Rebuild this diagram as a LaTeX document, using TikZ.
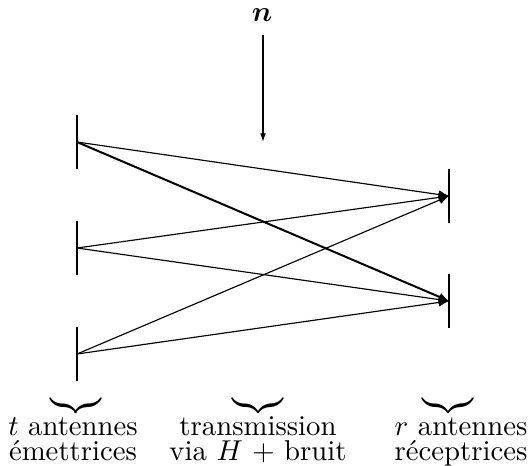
\documentclass[tikz,border=0pt]{standalone}
\usepackage{amsmath,bm}
\usetikzlibrary{arrows.meta}
\newcommand\tightlines{\fontsize{10pt}{8.7pt}\selectfont\lineskiplimit=-20pt\relax\lineskip=0pt\relax}
\begin{document}
\begin{tikzpicture}[x=0.348pt,y=-0.348pt,
  antenna/.style={line width=0.45pt},
  link/.style={line width=0.4pt,-{Latex[length=3.6pt,width=3pt]}},
  boldlink/.style={line width=0.7pt,-{Latex[length=3.6pt,width=3pt]}},
  noisearrow/.style={line width=0.4pt,-{Latex[length=3pt,width=2pt]}},
  lbl/.style={font=\tightlines,align=center,inner sep=0pt,anchor=base},
  brace/.style={inner sep=0pt}]
\useasboundingbox (0,0) rectangle (531,465);
% transmit antennas
\coordinate (t1) at (77,142);
\coordinate (t2) at (77,248);
\coordinate (t3) at (77,354);
% receive antennas
\coordinate (r1) at (449,196);
\coordinate (r2) at (449,301);
\foreach \a in {t1,t2,t3,r1,r2}
  \draw[antenna] ([yshift=27*0.348pt]\a) -- ([yshift=-27*0.348pt]\a);
% links
\draw[link] (t1) -- (r1);
\draw[boldlink] (t1) -- (r2);
\draw[link] (t2) -- (r1);
\draw[link] (t2) -- (r2);
\draw[link] (t3) -- (r1);
\draw[link] (t3) -- (r2);
% noise
\node[inner sep=0pt] (n) at (262,15) {$\bm{n}$};
\coordinate (nstart) at (263,35);
\coordinate (nend) at (263,142);
\draw[noisearrow] (nstart) -- (nend);
% braces
\node[brace] (b1) at (76,406) {$\underbrace{\hbox to 18pt{}}$};
\node[brace] (b2) at (258,406) {$\underbrace{\hbox to 18pt{}}$};
\node[brace] (b3) at (448,406) {$\underbrace{\hbox to 18pt{}}$};
% labels
\node[lbl] (l1) at (73,460) {$t$ antennes\\ émettrices};
\node[lbl] (l2) at (258,460) {transmission\\ via $H$ + bruit};
\node[lbl] (l3) at (461,460) {$r$ antennes\\ réceptrices};
\end{tikzpicture}
\end{document}
